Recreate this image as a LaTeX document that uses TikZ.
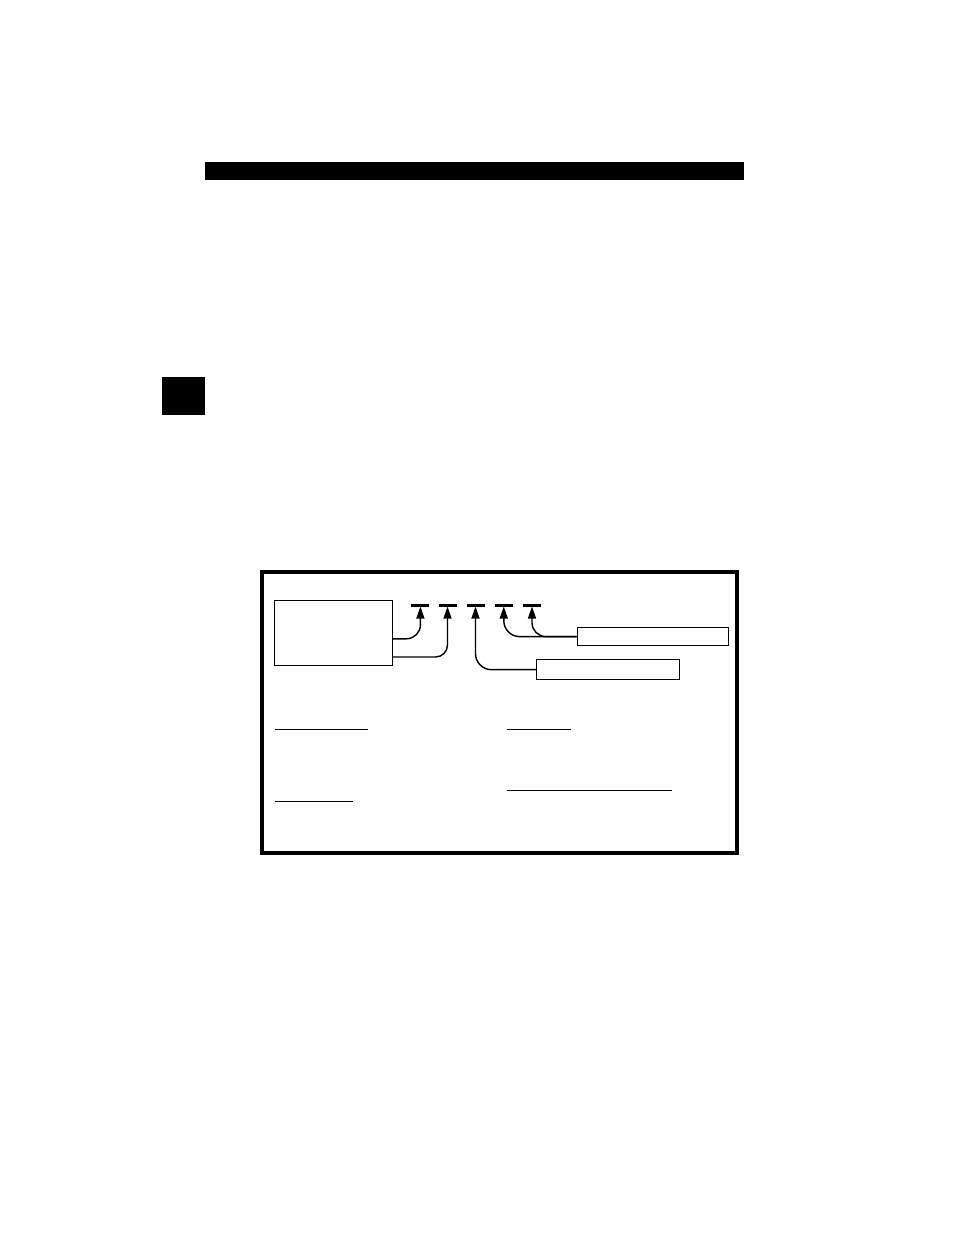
\documentclass[tikz,border=0pt]{standalone}
\usetikzlibrary{arrows.meta}
\begin{document}
\begin{tikzpicture}[x=1pt,y=-1pt,
  thinbox/.style={draw,line width=1.3pt,inner sep=0pt,anchor=north west},
  conn/.style={line width=1.4pt,rounded corners=14pt,-{Triangle[length=12pt,width=8pt]}},
  tickbar/.style={line width=3pt},
  uline/.style={line width=1.2pt}]
\useasboundingbox (0,0) rectangle (954,1235);
% top bar and side tab
\fill (205,162) rectangle (744,180);
\fill (162,377) rectangle (205,415);
% outer frame
\draw[line width=3.6pt] (262,572) rectangle (737,853);
% boxes
\node[thinbox,minimum width=118pt,minimum height=65.5pt] (main) at (273.5,599.5) {};
\node[thinbox,minimum width=151pt,minimum height=18pt] (boxa) at (576.5,627) {};
\node[thinbox,minimum width=142.5pt,minimum height=20pt] (boxb) at (536,659) {};
% tick bars and tips
\foreach \i/\x in {1/420.4,2/447.5,3/475.5,4/503.8,5/532} {
  \draw[tickbar] (\x-9,605) -- (\x+9,605);
  \coordinate (t\i) at (\x,606.5);
}
% connectors
\draw[conn] (main.east |- 0,638.8) -| (t1);
\draw[conn,rounded corners=12pt] (main.east |- 0,657) -| (t2);
\draw[conn,rounded corners=16pt] (boxb.west) -| (t3);
\draw[conn,rounded corners=16pt] (boxa.west) -| (t4);
\draw[conn,rounded corners=14pt] (boxa.west) -| (t5);
% underlines
\draw[uline] (275,729.7) -- (368.4,729.7);
\draw[uline] (275,801.5) -- (353,801.5);
\draw[uline] (506.6,729.7) -- (571,729.7);
\draw[uline] (506.6,790.5) -- (672.4,790.5);
\end{tikzpicture}
\end{document}
